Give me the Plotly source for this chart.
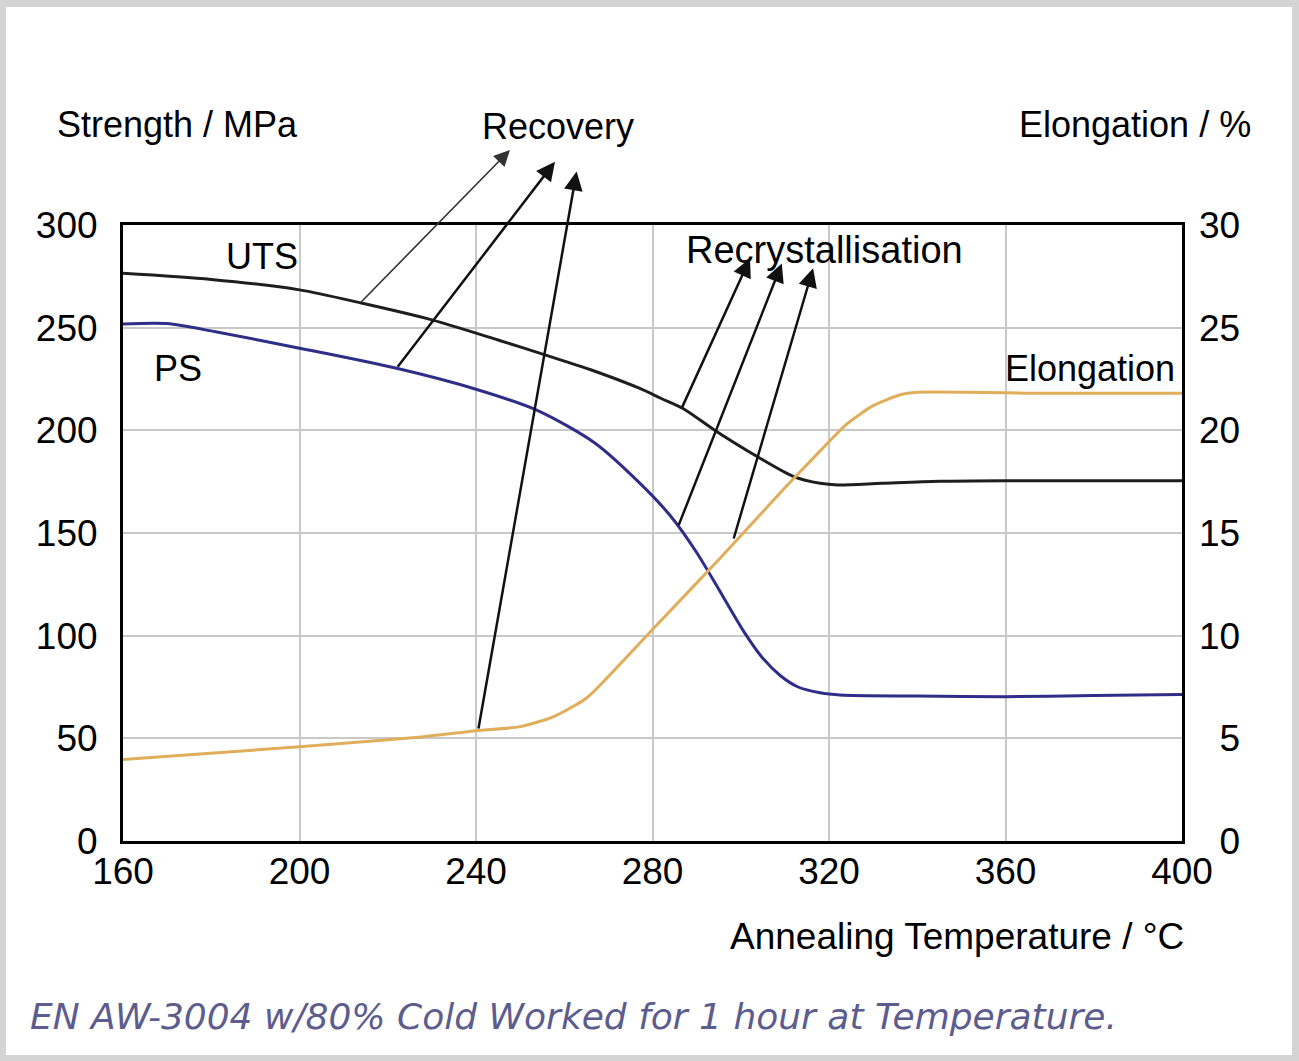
import plotly.graph_objects as go

# ---------------- data ----------------
uts_temp = [160, 180, 200, 214, 230, 245, 256, 266, 277, 282, 287, 294, 304, 312, 318, 322, 332, 345, 360, 400]
uts_mpa = [276.5, 273.5, 268.4, 262.0, 253.8, 244.0, 236.5, 229.5, 220.5, 215.5, 210.5, 200.2, 186.9, 177.5, 174.2, 173.4, 174.2, 175.2, 175.5, 175.5]

ps_temp = [160, 170, 181, 200, 222, 240, 254, 267, 277, 284, 290, 296, 301, 305, 309, 313, 318, 322.5, 340, 360, 380, 400]
ps_mpa = [251.8, 252.0, 248.0, 240.0, 230.2, 220.0, 209.6, 193.7, 174.5, 158.5, 140.5, 119.0, 101.0, 89.0, 80.5, 75.0, 72.2, 71.1, 70.6, 70.3, 70.8, 71.4]

el_temp = [160, 200, 227, 240, 250, 257.5, 265, 272.6, 280, 295, 310, 318, 324, 330, 336, 340, 370, 400]
el_pct = [3.97, 4.59, 5.05, 5.37, 5.57, 6.05, 6.95, 8.6, 10.3, 13.7, 17.2, 19.0, 20.3, 21.2, 21.72, 21.85, 21.8, 21.8]

x_ticks = [160, 200, 240, 280, 320, 360, 400]
y_ticks = [0, 50, 100, 150, 200, 250, 300]
y2_ticks = [0, 5, 10, 15, 20, 25, 30]
y2_ticktext = ["\u20070", "\u20075", "10", "15", "20", "25", "30"]

# arrows: (head_T, head_MPa, tail_T, tail_MPa)
recovery_arrows = [(247.7, 336.5, 213.7, 261.9), (257.9, 330.8, 222.0, 230.2), (262.8, 326.0, 240.5, 54.1)]
recryst_arrows = [(302.1, 283.8, 286.6, 210.7), (309.3, 281.3, 285.8, 153.1), (316.4, 278.9, 298.3, 146.6)]

# ---------------- layout geometry ----------------
W, H = 1299, 1061
L, R, T, B = 123, 1182, 225, 841


def px(xp, yp):
    return (xp - L) / (R - L), (B - yp) / (B - T)


fig = go.Figure()
fig.add_trace(go.Scatter(x=uts_temp, y=uts_mpa, mode="lines", line=dict(color="#1e1e1e", width=3, shape="spline", smoothing=0.8), showlegend=False))
fig.add_trace(go.Scatter(x=ps_temp, y=ps_mpa, mode="lines", line=dict(color="#2e2e88", width=3, shape="spline", smoothing=0.8), showlegend=False))
fig.add_trace(go.Scatter(x=el_temp, y=el_pct, mode="lines", yaxis="y2", line=dict(color="#e0ae5a", width=3, shape="spline", smoothing=0.6), showlegend=False))

font_main = "Liberation Sans, Arial, sans-serif"

annotations = []


def text_ann(txt, xp, yp, size=36, xanchor="center", color="black", family=font_main, italic=False):
    xx, yy = px(xp, yp)
    t = f"<i>{txt}</i>" if italic else txt
    annotations.append(dict(text=t, x=xx, y=yy, xref="paper", yref="paper", xanchor=xanchor, yanchor="middle",
                            showarrow=False, font=dict(size=size, color=color, family=family)))


text_ann("Strength / MPa", 55, 124, xanchor="left")
text_ann("Elongation / %", 1253, 124, xanchor="right")
text_ann("Recovery", 558, 127)
text_ann("UTS", 262, 256)
text_ann("PS", 178, 368)
text_ann("Recrystallisation", 824, 250, size=38)
text_ann("Elongation", 1177, 368, xanchor="right")
text_ann("Annealing Temperature / \u00b0C", 728, 936, xanchor="left", size=37)
text_ann("EN AW-3004 w/80% Cold Worked for 1 hour at Temperature.", 28, 1017, xanchor="left", size=36,
         color="#5c5c8e", family="DejaVu Sans, Verdana, sans-serif", italic=True)

for i, (hx, hy, tx, ty) in enumerate(recovery_arrows + recryst_arrows):
    thin = i == 0
    annotations.append(dict(text="", x=hx, y=hy, ax=tx, ay=ty, xref="x", yref="y", axref="x", ayref="y",
                            showarrow=True, arrowhead=2, arrowsize=1.5 if not thin else 2.0,
                            arrowwidth=2.5 if not thin else 1.6, arrowcolor="#333333" if thin else "#111111",
                            standoff=0, startstandoff=0))

x0, y0 = px(6, 1055)
x1, y1 = px(1292, 7)

fig.update_layout(
    width=W, height=H,
    margin=dict(l=L, r=W - R, t=T, b=H - B, pad=0),
    paper_bgcolor="#d4d4d4",
    plot_bgcolor="white",
    font=dict(family=font_main, size=37, color="black"),
    shapes=[dict(type="rect", xref="paper", yref="paper", x0=x0, y0=y0, x1=x1, y1=y1,
                 fillcolor="white", line=dict(width=0), layer="below")],
    annotations=annotations,
    xaxis=dict(range=[160, 400], tickvals=x_ticks, showgrid=True, gridcolor="#c8c8c8", gridwidth=2,
               showline=True, linecolor="black", linewidth=3, mirror=True, ticks="", zeroline=False,
               ticklabelstandoff=-4, tickfont=dict(size=37)),
    yaxis=dict(range=[0, 300], tickvals=y_ticks, showgrid=True, gridcolor="#c8c8c8", gridwidth=2,
               showline=True, linecolor="black", linewidth=3, mirror=True, ticks="", zeroline=False,
               ticklabelstandoff=15, tickfont=dict(size=37)),
    yaxis2=dict(range=[0, 30], tickvals=y2_ticks, ticktext=y2_ticktext, overlaying="y", side="right",
                showgrid=False, showline=False, ticks="", zeroline=False, ticklabelstandoff=16,
                tickfont=dict(size=37)),
)

fig.write_html("out.html", config={"displayModeBar": False},
               post_script="document.body.style.margin='0px';document.body.style.padding='0px';document.body.style.overflow='hidden';")
